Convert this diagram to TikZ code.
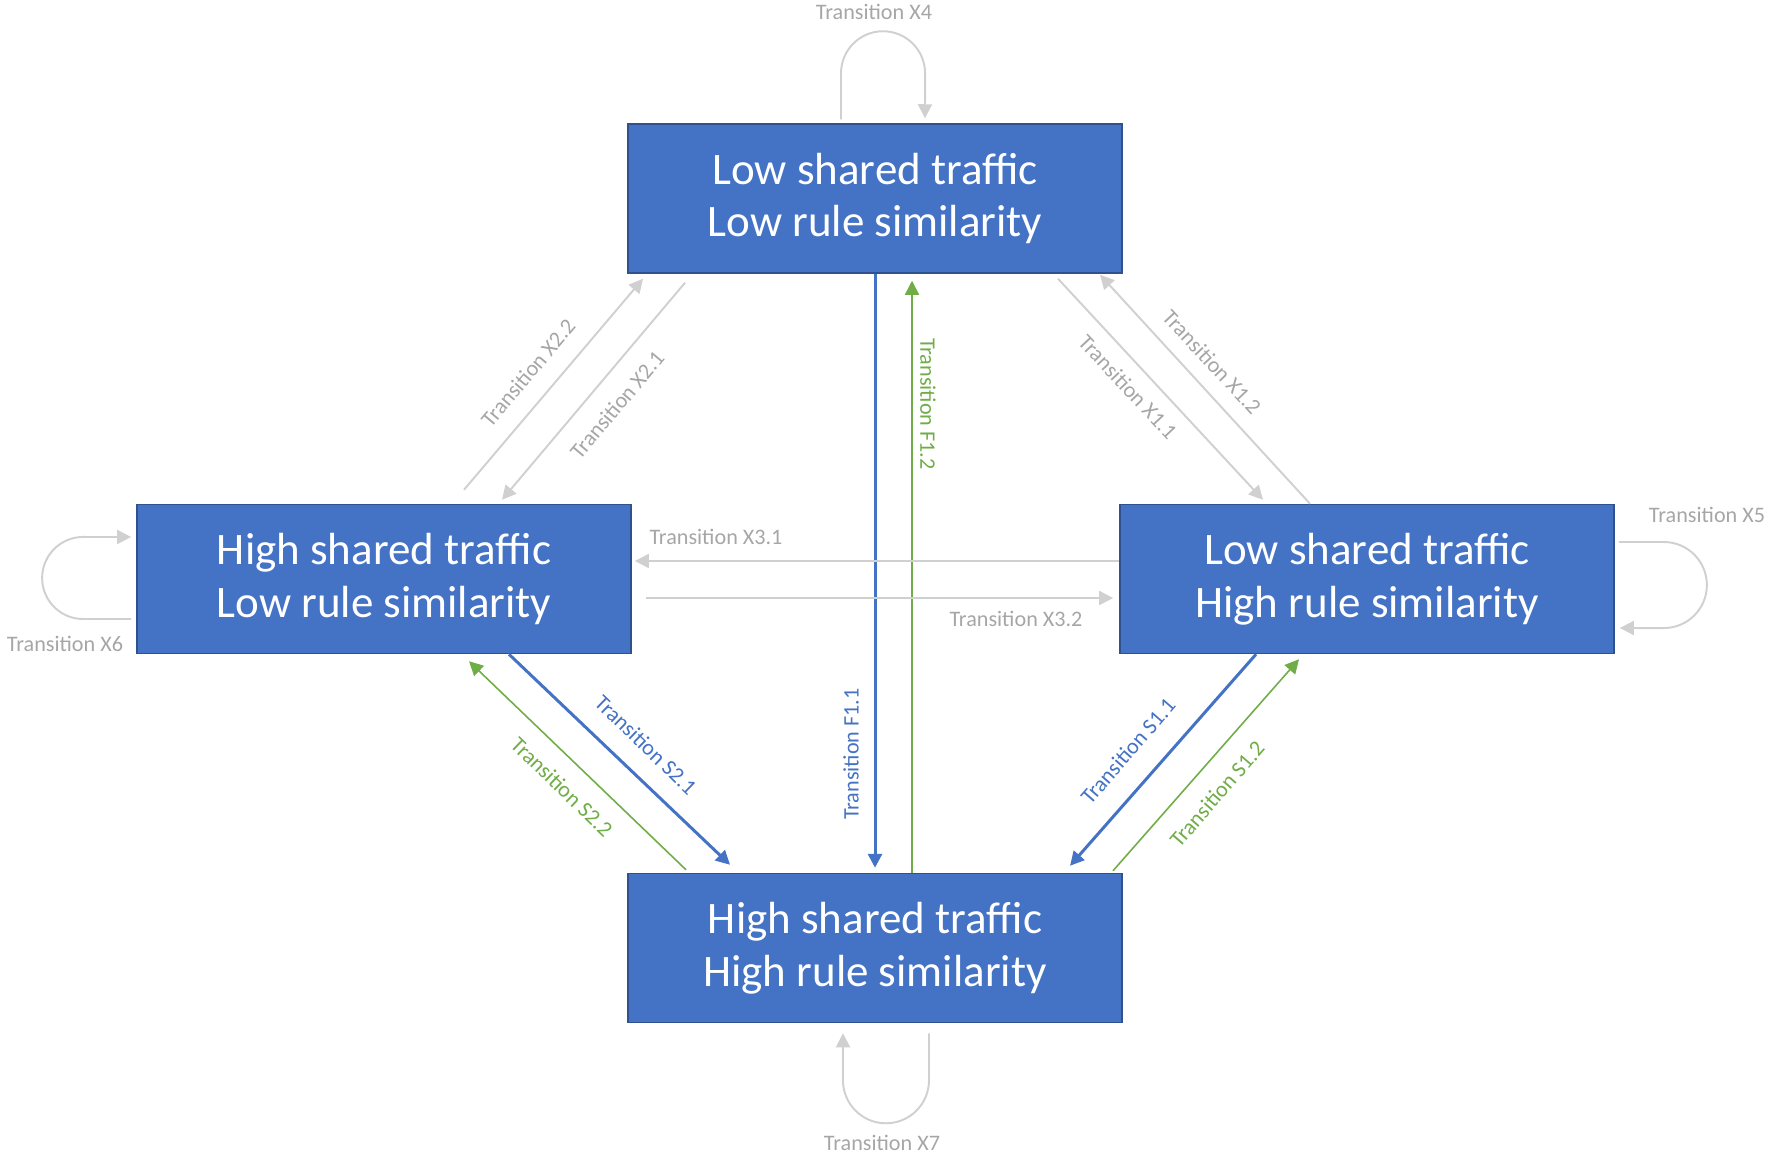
\documentclass[tikz,border=0pt]{standalone}
\usepackage{fontspec}
\setmainfont{Carlito}
\usetikzlibrary{arrows.meta,calc}
\definecolor{boxblue}{HTML}{4472C4}
\definecolor{boxedge}{HTML}{2F528F}
\definecolor{fastgreen}{HTML}{70AD47}
\definecolor{crossgray}{HTML}{D0D0D0}
\definecolor{labelgray}{HTML}{A6A6A6}
\tikzset{
  state/.style={draw=boxedge, line width=0.4pt, fill=boxblue, text=white,
    minimum width=4.94cm, minimum height=1.49cm, inner sep=0pt, align=center,
    font=\fontsize{12.8}{15}\selectfont},
  tip/.style={-{Triangle[length=0.14cm, width=0.14cm]}},
  slowline/.style={tip, boxblue, line width=0.85pt},
  fastline/.style={tip, fastgreen, line width=0.45pt},
  crossline/.style={tip, crossgray, line width=0.55pt},
  lbl/.style={inner sep=0pt, font=\fontsize{6.3}{7}\selectfont, text=labelgray},
}
\begin{document}
\begin{tikzpicture}[x=0.01cm, y=-0.01cm]
  \useasboundingbox (0,0) rectangle (1770,1154);

  % the four states
  \node[state] (lolo) at (875,198.5) {Low shared traffic\\Low rule similarity};
  \node[state] (hilo) at (384,579) {High shared traffic\\Low rule similarity};
  \node[state] (lohi) at (1367,579) {Low shared traffic\\High rule similarity};
  \node[state] (hihi) at (875,948) {High shared traffic\\High rule similarity};

  % vertical transitions
  \draw[slowline] (lolo.south) -- ($(hihi.north)+(0,-5)$);
  \draw[fastline] ($(hihi.north)+(37,0)$) -- ($(lolo.south)+(37,7)$);
  \node[lbl, text=boxblue, rotate=90] (lf11) at (851,754) {Transition F1.1};
  \node[lbl, text=fastgreen, rotate=-90] (lf12) at (928,404) {Transition F1.2};

  % lower diagonals
  \draw[slowline] ($(hilo.south)+(125,0)$) -- ($(hihi.north)+(-145,-8)$);
  \draw[fastline] ($(hihi.north)+(-189,-3)$) -- ($(hilo.south)+(85,7)$);
  \draw[slowline] ($(lohi.south)+(-111,0)$) -- ($(hihi.north)+(195,-7)$);
  \draw[fastline] ($(hihi.north)+(238,-2)$) -- ($(lohi.south)+(-68,5)$);
  \node[lbl, text=boxblue, rotate=-44] (ls21) at (646,745) {Transition S2.1};
  \node[lbl, text=fastgreen, rotate=-44] (ls22) at (562,787) {Transition S2.2};
  \node[lbl, text=boxblue, rotate=49] (ls11) at (1128,751) {Transition S1.1};
  \node[lbl, text=fastgreen, rotate=49] (ls12) at (1217,794) {Transition S1.2};

  % upper diagonals
  \draw[crossline] ($(hilo.north)+(80,-14)$) -- ($(lolo.south)+(-232,5)$);
  \draw[crossline] ($(lolo.south)+(-190,9)$) -- ($(hilo.north)+(118,-4)$);
  \draw[crossline] ($(lolo.south)+(183,5)$) -- ($(lohi.north)+(-104,-4)$);
  \draw[crossline] ($(lohi.north)+(-57,0)$) -- ($(lolo.south)+(225,1)$);
  \node[lbl, rotate=50] (lx22) at (528,373) {Transition X2.2};
  \node[lbl, rotate=50] (lx21) at (617,405) {Transition X2.1};
  \node[lbl, rotate=-47] (lx11) at (1128,387) {Transition X1.1};
  \node[lbl, rotate=-47] (lx12) at (1212,362) {Transition X1.2};

  % horizontal transitions
  \draw[crossline] ($(lohi.west)+(0,-18)$) -- ($(hilo.east)+(3,-18)$);
  \draw[crossline] ($(hilo.east)+(14,19)$) -- ($(lohi.west)+(-6,19)$);
  \node[lbl] (lx31) at (716,537) {Transition X3.1};
  \node[lbl] (lx32) at (1016,619) {Transition X3.2};

  % self loops
  \draw[crossline] ($(lolo.north)+(-34,-4)$) -- ++(0,-46)
    arc[start angle=180, end angle=0, radius=0.42cm] -- ($(lolo.north)+(50,-5)$);
  \draw[crossline] ($(hihi.south)+(54,10)$) -- ++(0,47)
    arc[start angle=0, end angle=-180, radius=0.43cm] -- ($(hihi.south)+(-32,10)$);
  \draw[crossline] ($(hilo.west)+(-5,40)$) -- ++(-48,0)
    arc[start angle=270, end angle=90, radius=0.41cm] -- ($(hilo.west)+(-5,-42)$);
  \draw[crossline] ($(lohi.east)+(4,-37)$) -- ++(45,0)
    arc[start angle=90, end angle=-90, radius=0.43cm] -- ($(lohi.east)+(5,49)$);
  \node[lbl] (lx4) at (874,12) {Transition X4};
  \node[lbl] (lx7) at (882,1143) {Transition X7};
  \node[lbl] (lx6) at (65,644) {Transition X6};
  \node[lbl] (lx5) at (1707,515) {Transition X5};
\end{tikzpicture}
\end{document}
